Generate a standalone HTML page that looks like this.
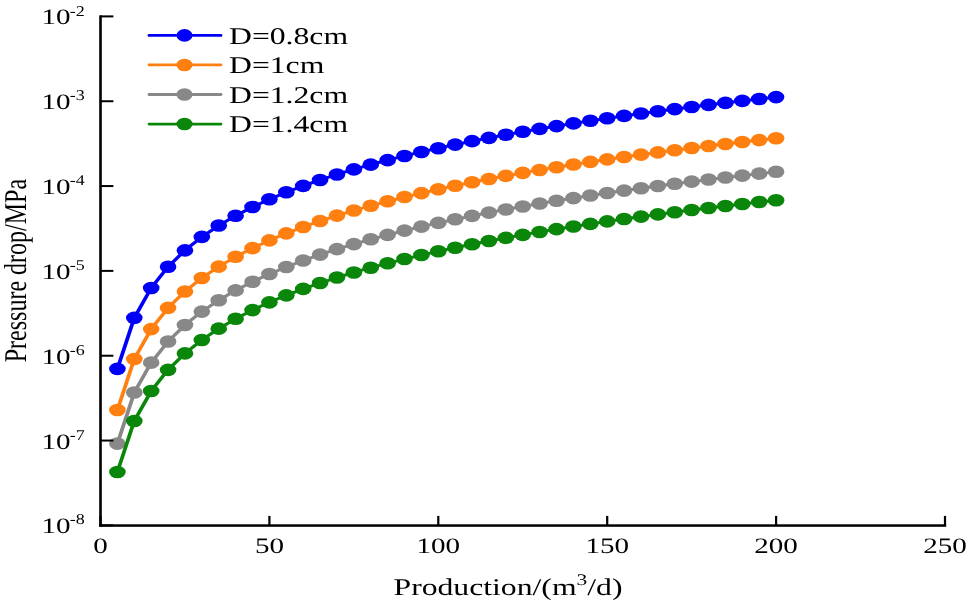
<!DOCTYPE html><html><head><meta charset="utf-8"><style>html,body{margin:0;padding:0;background:#fff;overflow:hidden}svg{display:block;will-change:transform}text{font-family:"Liberation Serif",serif;fill:#000;text-rendering:geometricPrecision}</style></head><body>
<svg width="968" height="604" viewBox="0 0 968 604">
<rect width="968" height="604" fill="#fff"/>
<g transform="scale(1.320,1)">
<polyline fill="none" stroke="#0000F8" stroke-width="2.90" stroke-linejoin="round" points="88.93,368.92 101.73,317.85 114.52,287.98 127.32,266.78 140.11,250.34 152.91,236.90 165.70,225.55 178.50,215.71 191.30,207.03 204.09,199.26 216.89,192.24 229.68,185.83 242.48,179.93 255.27,174.47 268.07,169.39 280.86,164.63 293.66,160.17 306.45,155.96 319.25,151.97 332.05,148.19 344.84,144.60 357.64,141.17 370.43,137.89 383.23,134.76 396.02,131.75 408.82,128.86 421.61,126.08 434.41,123.40 447.20,120.81 460.00,118.32 472.80,115.90 485.59,113.56 498.39,111.29 511.18,109.09 523.98,106.96 536.77,104.88 549.57,102.86 562.36,100.90 575.16,98.98 587.95,97.12"/>
<circle cx="88.93" cy="368.92" r="6.30" fill="#0000F8"/>
<circle cx="101.73" cy="317.85" r="6.30" fill="#0000F8"/>
<circle cx="114.52" cy="287.98" r="6.30" fill="#0000F8"/>
<circle cx="127.32" cy="266.78" r="6.30" fill="#0000F8"/>
<circle cx="140.11" cy="250.34" r="6.30" fill="#0000F8"/>
<circle cx="152.91" cy="236.90" r="6.30" fill="#0000F8"/>
<circle cx="165.70" cy="225.55" r="6.30" fill="#0000F8"/>
<circle cx="178.50" cy="215.71" r="6.30" fill="#0000F8"/>
<circle cx="191.30" cy="207.03" r="6.30" fill="#0000F8"/>
<circle cx="204.09" cy="199.26" r="6.30" fill="#0000F8"/>
<circle cx="216.89" cy="192.24" r="6.30" fill="#0000F8"/>
<circle cx="229.68" cy="185.83" r="6.30" fill="#0000F8"/>
<circle cx="242.48" cy="179.93" r="6.30" fill="#0000F8"/>
<circle cx="255.27" cy="174.47" r="6.30" fill="#0000F8"/>
<circle cx="268.07" cy="169.39" r="6.30" fill="#0000F8"/>
<circle cx="280.86" cy="164.63" r="6.30" fill="#0000F8"/>
<circle cx="293.66" cy="160.17" r="6.30" fill="#0000F8"/>
<circle cx="306.45" cy="155.96" r="6.30" fill="#0000F8"/>
<circle cx="319.25" cy="151.97" r="6.30" fill="#0000F8"/>
<circle cx="332.05" cy="148.19" r="6.30" fill="#0000F8"/>
<circle cx="344.84" cy="144.60" r="6.30" fill="#0000F8"/>
<circle cx="357.64" cy="141.17" r="6.30" fill="#0000F8"/>
<circle cx="370.43" cy="137.89" r="6.30" fill="#0000F8"/>
<circle cx="383.23" cy="134.76" r="6.30" fill="#0000F8"/>
<circle cx="396.02" cy="131.75" r="6.30" fill="#0000F8"/>
<circle cx="408.82" cy="128.86" r="6.30" fill="#0000F8"/>
<circle cx="421.61" cy="126.08" r="6.30" fill="#0000F8"/>
<circle cx="434.41" cy="123.40" r="6.30" fill="#0000F8"/>
<circle cx="447.20" cy="120.81" r="6.30" fill="#0000F8"/>
<circle cx="460.00" cy="118.32" r="6.30" fill="#0000F8"/>
<circle cx="472.80" cy="115.90" r="6.30" fill="#0000F8"/>
<circle cx="485.59" cy="113.56" r="6.30" fill="#0000F8"/>
<circle cx="498.39" cy="111.29" r="6.30" fill="#0000F8"/>
<circle cx="511.18" cy="109.09" r="6.30" fill="#0000F8"/>
<circle cx="523.98" cy="106.96" r="6.30" fill="#0000F8"/>
<circle cx="536.77" cy="104.88" r="6.30" fill="#0000F8"/>
<circle cx="549.57" cy="102.86" r="6.30" fill="#0000F8"/>
<circle cx="562.36" cy="100.90" r="6.30" fill="#0000F8"/>
<circle cx="575.16" cy="98.98" r="6.30" fill="#0000F8"/>
<circle cx="587.95" cy="97.12" r="6.30" fill="#0000F8"/>
</g>
<g transform="scale(1.320,1)">
<polyline fill="none" stroke="#FF8010" stroke-width="2.90" stroke-linejoin="round" points="88.93,410.03 101.73,358.96 114.52,329.08 127.32,307.88 140.11,291.44 152.91,278.01 165.70,266.65 178.50,256.81 191.30,248.13 204.09,240.37 216.89,233.35 229.68,226.94 242.48,221.04 255.27,215.58 268.07,210.49 280.86,205.74 293.66,201.27 306.45,197.06 319.25,193.08 332.05,189.30 344.84,185.70 357.64,182.27 370.43,179.00 383.23,175.86 396.02,172.85 408.82,169.96 421.61,167.18 434.41,164.50 447.20,161.92 460.00,159.42 472.80,157.00 485.59,154.67 498.39,152.40 511.18,150.20 523.98,148.06 536.77,145.99 549.57,143.97 562.36,142.00 575.16,140.09 587.95,138.22"/>
<circle cx="88.93" cy="410.03" r="6.30" fill="#FF8010"/>
<circle cx="101.73" cy="358.96" r="6.30" fill="#FF8010"/>
<circle cx="114.52" cy="329.08" r="6.30" fill="#FF8010"/>
<circle cx="127.32" cy="307.88" r="6.30" fill="#FF8010"/>
<circle cx="140.11" cy="291.44" r="6.30" fill="#FF8010"/>
<circle cx="152.91" cy="278.01" r="6.30" fill="#FF8010"/>
<circle cx="165.70" cy="266.65" r="6.30" fill="#FF8010"/>
<circle cx="178.50" cy="256.81" r="6.30" fill="#FF8010"/>
<circle cx="191.30" cy="248.13" r="6.30" fill="#FF8010"/>
<circle cx="204.09" cy="240.37" r="6.30" fill="#FF8010"/>
<circle cx="216.89" cy="233.35" r="6.30" fill="#FF8010"/>
<circle cx="229.68" cy="226.94" r="6.30" fill="#FF8010"/>
<circle cx="242.48" cy="221.04" r="6.30" fill="#FF8010"/>
<circle cx="255.27" cy="215.58" r="6.30" fill="#FF8010"/>
<circle cx="268.07" cy="210.49" r="6.30" fill="#FF8010"/>
<circle cx="280.86" cy="205.74" r="6.30" fill="#FF8010"/>
<circle cx="293.66" cy="201.27" r="6.30" fill="#FF8010"/>
<circle cx="306.45" cy="197.06" r="6.30" fill="#FF8010"/>
<circle cx="319.25" cy="193.08" r="6.30" fill="#FF8010"/>
<circle cx="332.05" cy="189.30" r="6.30" fill="#FF8010"/>
<circle cx="344.84" cy="185.70" r="6.30" fill="#FF8010"/>
<circle cx="357.64" cy="182.27" r="6.30" fill="#FF8010"/>
<circle cx="370.43" cy="179.00" r="6.30" fill="#FF8010"/>
<circle cx="383.23" cy="175.86" r="6.30" fill="#FF8010"/>
<circle cx="396.02" cy="172.85" r="6.30" fill="#FF8010"/>
<circle cx="408.82" cy="169.96" r="6.30" fill="#FF8010"/>
<circle cx="421.61" cy="167.18" r="6.30" fill="#FF8010"/>
<circle cx="434.41" cy="164.50" r="6.30" fill="#FF8010"/>
<circle cx="447.20" cy="161.92" r="6.30" fill="#FF8010"/>
<circle cx="460.00" cy="159.42" r="6.30" fill="#FF8010"/>
<circle cx="472.80" cy="157.00" r="6.30" fill="#FF8010"/>
<circle cx="485.59" cy="154.67" r="6.30" fill="#FF8010"/>
<circle cx="498.39" cy="152.40" r="6.30" fill="#FF8010"/>
<circle cx="511.18" cy="150.20" r="6.30" fill="#FF8010"/>
<circle cx="523.98" cy="148.06" r="6.30" fill="#FF8010"/>
<circle cx="536.77" cy="145.99" r="6.30" fill="#FF8010"/>
<circle cx="549.57" cy="143.97" r="6.30" fill="#FF8010"/>
<circle cx="562.36" cy="142.00" r="6.30" fill="#FF8010"/>
<circle cx="575.16" cy="140.09" r="6.30" fill="#FF8010"/>
<circle cx="587.95" cy="138.22" r="6.30" fill="#FF8010"/>
</g>
<g transform="scale(1.320,1)">
<polyline fill="none" stroke="#888888" stroke-width="2.90" stroke-linejoin="round" points="88.93,443.61 101.73,392.54 114.52,362.67 127.32,341.47 140.11,325.03 152.91,311.59 165.70,300.23 178.50,290.40 191.30,281.72 204.09,273.95 216.89,266.93 229.68,260.52 242.48,254.62 255.27,249.16 268.07,244.08 280.86,239.32 293.66,234.86 306.45,230.64 319.25,226.66 332.05,222.88 344.84,219.29 357.64,215.86 370.43,212.58 383.23,209.45 396.02,206.44 408.82,203.55 421.61,200.77 434.41,198.09 447.20,195.50 460.00,193.01 472.80,190.59 485.59,188.25 498.39,185.98 511.18,183.78 523.98,181.65 536.77,179.57 549.57,177.55 562.36,175.59 575.16,173.67 587.95,171.81"/>
<circle cx="88.93" cy="443.61" r="6.30" fill="#888888"/>
<circle cx="101.73" cy="392.54" r="6.30" fill="#888888"/>
<circle cx="114.52" cy="362.67" r="6.30" fill="#888888"/>
<circle cx="127.32" cy="341.47" r="6.30" fill="#888888"/>
<circle cx="140.11" cy="325.03" r="6.30" fill="#888888"/>
<circle cx="152.91" cy="311.59" r="6.30" fill="#888888"/>
<circle cx="165.70" cy="300.23" r="6.30" fill="#888888"/>
<circle cx="178.50" cy="290.40" r="6.30" fill="#888888"/>
<circle cx="191.30" cy="281.72" r="6.30" fill="#888888"/>
<circle cx="204.09" cy="273.95" r="6.30" fill="#888888"/>
<circle cx="216.89" cy="266.93" r="6.30" fill="#888888"/>
<circle cx="229.68" cy="260.52" r="6.30" fill="#888888"/>
<circle cx="242.48" cy="254.62" r="6.30" fill="#888888"/>
<circle cx="255.27" cy="249.16" r="6.30" fill="#888888"/>
<circle cx="268.07" cy="244.08" r="6.30" fill="#888888"/>
<circle cx="280.86" cy="239.32" r="6.30" fill="#888888"/>
<circle cx="293.66" cy="234.86" r="6.30" fill="#888888"/>
<circle cx="306.45" cy="230.64" r="6.30" fill="#888888"/>
<circle cx="319.25" cy="226.66" r="6.30" fill="#888888"/>
<circle cx="332.05" cy="222.88" r="6.30" fill="#888888"/>
<circle cx="344.84" cy="219.29" r="6.30" fill="#888888"/>
<circle cx="357.64" cy="215.86" r="6.30" fill="#888888"/>
<circle cx="370.43" cy="212.58" r="6.30" fill="#888888"/>
<circle cx="383.23" cy="209.45" r="6.30" fill="#888888"/>
<circle cx="396.02" cy="206.44" r="6.30" fill="#888888"/>
<circle cx="408.82" cy="203.55" r="6.30" fill="#888888"/>
<circle cx="421.61" cy="200.77" r="6.30" fill="#888888"/>
<circle cx="434.41" cy="198.09" r="6.30" fill="#888888"/>
<circle cx="447.20" cy="195.50" r="6.30" fill="#888888"/>
<circle cx="460.00" cy="193.01" r="6.30" fill="#888888"/>
<circle cx="472.80" cy="190.59" r="6.30" fill="#888888"/>
<circle cx="485.59" cy="188.25" r="6.30" fill="#888888"/>
<circle cx="498.39" cy="185.98" r="6.30" fill="#888888"/>
<circle cx="511.18" cy="183.78" r="6.30" fill="#888888"/>
<circle cx="523.98" cy="181.65" r="6.30" fill="#888888"/>
<circle cx="536.77" cy="179.57" r="6.30" fill="#888888"/>
<circle cx="549.57" cy="177.55" r="6.30" fill="#888888"/>
<circle cx="562.36" cy="175.59" r="6.30" fill="#888888"/>
<circle cx="575.16" cy="173.67" r="6.30" fill="#888888"/>
<circle cx="587.95" cy="171.81" r="6.30" fill="#888888"/>
</g>
<g transform="scale(1.320,1)">
<polyline fill="none" stroke="#0A870A" stroke-width="2.90" stroke-linejoin="round" points="88.93,472.01 101.73,420.94 114.52,391.06 127.32,369.86 140.11,353.42 152.91,339.99 165.70,328.63 178.50,318.79 191.30,310.11 204.09,302.35 216.89,295.33 229.68,288.92 242.48,283.02 255.27,277.56 268.07,272.47 280.86,267.72 293.66,263.25 306.45,259.04 319.25,255.06 332.05,251.28 344.84,247.68 357.64,244.25 370.43,240.98 383.23,237.84 396.02,234.83 408.82,231.94 421.61,229.16 434.41,226.48 447.20,223.90 460.00,221.40 472.80,218.98 485.59,216.65 498.39,214.38 511.18,212.18 523.98,210.04 536.77,207.97 549.57,205.95 562.36,203.98 575.16,202.07 587.95,200.20"/>
<circle cx="88.93" cy="472.01" r="6.30" fill="#0A870A"/>
<circle cx="101.73" cy="420.94" r="6.30" fill="#0A870A"/>
<circle cx="114.52" cy="391.06" r="6.30" fill="#0A870A"/>
<circle cx="127.32" cy="369.86" r="6.30" fill="#0A870A"/>
<circle cx="140.11" cy="353.42" r="6.30" fill="#0A870A"/>
<circle cx="152.91" cy="339.99" r="6.30" fill="#0A870A"/>
<circle cx="165.70" cy="328.63" r="6.30" fill="#0A870A"/>
<circle cx="178.50" cy="318.79" r="6.30" fill="#0A870A"/>
<circle cx="191.30" cy="310.11" r="6.30" fill="#0A870A"/>
<circle cx="204.09" cy="302.35" r="6.30" fill="#0A870A"/>
<circle cx="216.89" cy="295.33" r="6.30" fill="#0A870A"/>
<circle cx="229.68" cy="288.92" r="6.30" fill="#0A870A"/>
<circle cx="242.48" cy="283.02" r="6.30" fill="#0A870A"/>
<circle cx="255.27" cy="277.56" r="6.30" fill="#0A870A"/>
<circle cx="268.07" cy="272.47" r="6.30" fill="#0A870A"/>
<circle cx="280.86" cy="267.72" r="6.30" fill="#0A870A"/>
<circle cx="293.66" cy="263.25" r="6.30" fill="#0A870A"/>
<circle cx="306.45" cy="259.04" r="6.30" fill="#0A870A"/>
<circle cx="319.25" cy="255.06" r="6.30" fill="#0A870A"/>
<circle cx="332.05" cy="251.28" r="6.30" fill="#0A870A"/>
<circle cx="344.84" cy="247.68" r="6.30" fill="#0A870A"/>
<circle cx="357.64" cy="244.25" r="6.30" fill="#0A870A"/>
<circle cx="370.43" cy="240.98" r="6.30" fill="#0A870A"/>
<circle cx="383.23" cy="237.84" r="6.30" fill="#0A870A"/>
<circle cx="396.02" cy="234.83" r="6.30" fill="#0A870A"/>
<circle cx="408.82" cy="231.94" r="6.30" fill="#0A870A"/>
<circle cx="421.61" cy="229.16" r="6.30" fill="#0A870A"/>
<circle cx="434.41" cy="226.48" r="6.30" fill="#0A870A"/>
<circle cx="447.20" cy="223.90" r="6.30" fill="#0A870A"/>
<circle cx="460.00" cy="221.40" r="6.30" fill="#0A870A"/>
<circle cx="472.80" cy="218.98" r="6.30" fill="#0A870A"/>
<circle cx="485.59" cy="216.65" r="6.30" fill="#0A870A"/>
<circle cx="498.39" cy="214.38" r="6.30" fill="#0A870A"/>
<circle cx="511.18" cy="212.18" r="6.30" fill="#0A870A"/>
<circle cx="523.98" cy="210.04" r="6.30" fill="#0A870A"/>
<circle cx="536.77" cy="207.97" r="6.30" fill="#0A870A"/>
<circle cx="549.57" cy="205.95" r="6.30" fill="#0A870A"/>
<circle cx="562.36" cy="203.98" r="6.30" fill="#0A870A"/>
<circle cx="575.16" cy="202.07" r="6.30" fill="#0A870A"/>
<circle cx="587.95" cy="200.20" r="6.30" fill="#0A870A"/>
</g>
<g fill="#000">
<rect x="99.2" y="15.4" width="2.6" height="511.2"/>
<rect x="99.2" y="524.3" width="847" height="2.5"/>
<rect x="100" y="15.40" width="13.4" height="2"/>
<rect x="100" y="100.23" width="13.4" height="2"/>
<rect x="100" y="185.06" width="13.4" height="2"/>
<rect x="100" y="269.89" width="13.4" height="2"/>
<rect x="100" y="354.72" width="13.4" height="2"/>
<rect x="100" y="439.55" width="13.4" height="2"/>
<rect x="100" y="524.38" width="13.4" height="2"/>
<rect x="99.40" y="515.9" width="2.2" height="9.5"/>
<rect x="268.30" y="515.9" width="2.2" height="9.5"/>
<rect x="437.20" y="515.9" width="2.2" height="9.5"/>
<rect x="606.10" y="515.9" width="2.2" height="9.5"/>
<rect x="775.00" y="515.9" width="2.2" height="9.5"/>
<rect x="943.90" y="515.9" width="2.2" height="9.5"/>
</g>
<text transform="translate(41.50,24.40) scale(1.320,1)" font-size="22">10</text>
<text transform="translate(69.80,15.50) scale(1.200,1)" font-size="15.0">-2</text>
<text transform="translate(41.50,109.23) scale(1.320,1)" font-size="22">10</text>
<text transform="translate(69.80,100.33) scale(1.200,1)" font-size="15.0">-3</text>
<text transform="translate(41.50,194.06) scale(1.320,1)" font-size="22">10</text>
<text transform="translate(69.80,185.16) scale(1.200,1)" font-size="15.0">-4</text>
<text transform="translate(41.50,278.89) scale(1.320,1)" font-size="22">10</text>
<text transform="translate(69.80,269.99) scale(1.200,1)" font-size="15.0">-5</text>
<text transform="translate(41.50,363.72) scale(1.320,1)" font-size="22">10</text>
<text transform="translate(69.80,354.82) scale(1.200,1)" font-size="15.0">-6</text>
<text transform="translate(41.50,448.55) scale(1.320,1)" font-size="22">10</text>
<text transform="translate(69.80,439.65) scale(1.200,1)" font-size="15.0">-7</text>
<text transform="translate(41.50,533.38) scale(1.320,1)" font-size="22">10</text>
<text transform="translate(69.80,524.48) scale(1.200,1)" font-size="15.0">-8</text>
<text transform="translate(100.50,553.2) scale(1.320,1)" font-size="22" text-anchor="middle">0</text>
<text transform="translate(269.40,553.2) scale(1.320,1)" font-size="22" text-anchor="middle">50</text>
<text transform="translate(438.30,553.2) scale(1.320,1)" font-size="22" text-anchor="middle">100</text>
<text transform="translate(607.20,553.2) scale(1.320,1)" font-size="22" text-anchor="middle">150</text>
<text transform="translate(776.10,553.2) scale(1.320,1)" font-size="22" text-anchor="middle">200</text>
<text transform="translate(945.00,553.2) scale(1.320,1)" font-size="22" text-anchor="middle">250</text>
<text transform="translate(508,595) scale(1.320,1)" font-size="24" text-anchor="middle">Production/(m<tspan font-size="16.3" dy="-10">3</tspan><tspan dy="10">/d)</tspan></text>
<text transform="translate(26.3,270.6) rotate(-90) scale(1,1.320)" font-size="24" text-anchor="middle">Pressure drop/MPa</text>
<line x1="149" y1="35.40" x2="221" y2="35.40" stroke="#0000F8" stroke-width="2.8" stroke-linecap="round"/>
<ellipse cx="184.5" cy="35.40" rx="8.00" ry="6.30" fill="#0000F8"/>
<text transform="translate(229,43.60) scale(1.320,1)" font-size="24">D=0.8cm</text>
<line x1="149" y1="64.95" x2="221" y2="64.95" stroke="#FF8010" stroke-width="2.8" stroke-linecap="round"/>
<ellipse cx="184.5" cy="64.95" rx="8.00" ry="6.30" fill="#FF8010"/>
<text transform="translate(229,73.15) scale(1.320,1)" font-size="24">D=1cm</text>
<line x1="149" y1="94.50" x2="221" y2="94.50" stroke="#888888" stroke-width="2.8" stroke-linecap="round"/>
<ellipse cx="184.5" cy="94.50" rx="8.00" ry="6.30" fill="#888888"/>
<text transform="translate(229,102.70) scale(1.320,1)" font-size="24">D=1.2cm</text>
<line x1="149" y1="124.05" x2="221" y2="124.05" stroke="#0A870A" stroke-width="2.8" stroke-linecap="round"/>
<ellipse cx="184.5" cy="124.05" rx="8.00" ry="6.30" fill="#0A870A"/>
<text transform="translate(229,132.25) scale(1.320,1)" font-size="24">D=1.4cm</text>
</svg></body></html>
